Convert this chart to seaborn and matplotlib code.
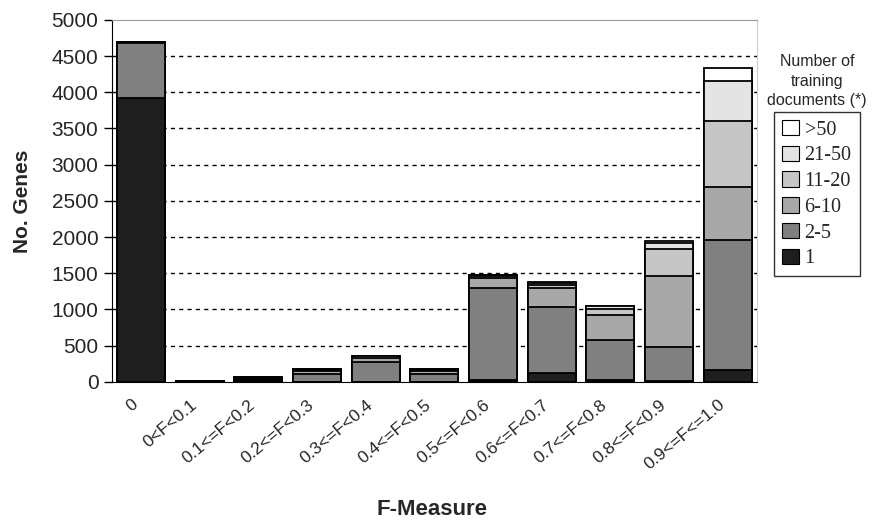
import numpy as np
import pandas as pd
import matplotlib
matplotlib.use('Agg')
import matplotlib.pyplot as plt
import matplotlib.transforms as mtransforms
import seaborn as sns
from matplotlib.patches import Patch

sns.set_style('white')
plt.rcParams['font.family'] = ['Liberation Sans', 'DejaVu Sans']

# F-measure bins
categories = ['0', '0<F<0.1', '0.1<=F<0.2', '0.2<=F<0.3', '0.3<=F<0.4', '0.4<=F<0.5',
              '0.5<=F<0.6', '0.6<=F<0.7', '0.7<=F<0.8', '0.8<=F<0.9', '0.9<=F<=1.0']

# number of genes per bin, split by number of training documents
docs_1 = [3920, 5, 10, 0, 0, 0, 20, 120, 20, 10, 165]
docs_2_5 = [760, 5, 20, 110, 280, 110, 1280, 920, 560, 465, 1795]
docs_6_10 = [10, 3, 15, 40, 50, 40, 140, 260, 340, 980, 730]
docs_11_20 = [5, 2, 10, 15, 20, 15, 20, 40, 90, 385, 910]
docs_21_50 = [5, 0, 5, 5, 10, 5, 10, 20, 40, 80, 550]
docs_gt50 = [0, 0, 0, 0, 0, 0, 0, 20, 0, 30, 190]

series_names = ['1', '2-5', '6-10', '11-20', '21-50', '>50']
series_vals = [docs_1, docs_2_5, docs_6_10, docs_11_20, docs_21_50, docs_gt50]
colors = ['#1e1e1e', '#808080', '#a8a8a8', '#c6c6c6', '#e4e4e4', '#ffffff']

df = pd.DataFrame(dict(zip(series_names, series_vals)), index=categories)
cum = df.cumsum(axis=1)

fig = plt.figure(figsize=(8.72, 5.23), dpi=100)
ax = fig.add_axes([0.128, 0.270, 0.740, 0.692])

# stacked bars: draw cumulative totals from the top layer down
for name, col in reversed(list(zip(series_names, colors))):
    sns.barplot(x=categories, y=cum[name].values, color=col, edgecolor='black',
                linewidth=1.3, width=0.82, saturation=1, ax=ax, zorder=3)

ax.set_ylim(0, 5000)
ax.set_xlim(-0.5, len(categories) - 0.5)
ax.set_yticks(range(0, 5001, 500))
for y in range(500, 5000, 500):
    ax.axhline(y, color='black', linestyle=(0, (3, 3)), linewidth=1, zorder=1)

ax.spines['left'].set_color('black')
ax.spines['bottom'].set_color('black')
ax.spines['top'].set_color('#999999')
ax.spines['right'].set_color('#cccccc')

ax.set_xticks(np.arange(len(categories)))
ax.set_xticklabels(categories, rotation=40, ha='right', rotation_mode='anchor', fontsize=12.5)
ax.tick_params(axis='x', length=0, pad=11)
shift = mtransforms.ScaledTranslation(-7 / 72, 0, fig.dpi_scale_trans)
for lbl in ax.get_xticklabels():
    lbl.set_transform(lbl.get_transform() + shift)
ax.set_xticks(np.arange(len(categories) + 1) - 0.5, minor=True)
ax.tick_params(axis='x', which='minor', length=6, width=1, color='black', direction='out')
ax.tick_params(axis='y', labelsize=15, length=6, width=1, color='black', direction='out', left=True)

ax.set_xlabel('F-Measure', fontsize=16, fontweight='bold')
ax.xaxis.set_label_coords(0.496, -0.325)
ax.set_ylabel('No. Genes', fontsize=15, fontweight='bold', labelpad=14)

# legend with title above the box
fig.text(0.937, 0.845, 'Number of\ntraining\ndocuments (*)', ha='center', va='center',
         fontsize=11.5, linespacing=1.35)
handles = [Patch(facecolor=c, edgecolor='black', linewidth=0.8, label=n)
           for n, c in zip(series_names, colors)][::-1]
leg = fig.legend(handles=handles, loc='upper left', bbox_to_anchor=(0.888, 0.786),
                 borderaxespad=0, frameon=True, fancybox=False, edgecolor='black',
                 prop={'family': 'Liberation Serif', 'size': 14.5},
                 handlelength=0.8, handleheight=0.8, handletextpad=0.3,
                 labelspacing=0.3, borderpad=0.4)
leg.get_frame().set_linewidth(1)

fig.savefig('out.png', dpi=100)
